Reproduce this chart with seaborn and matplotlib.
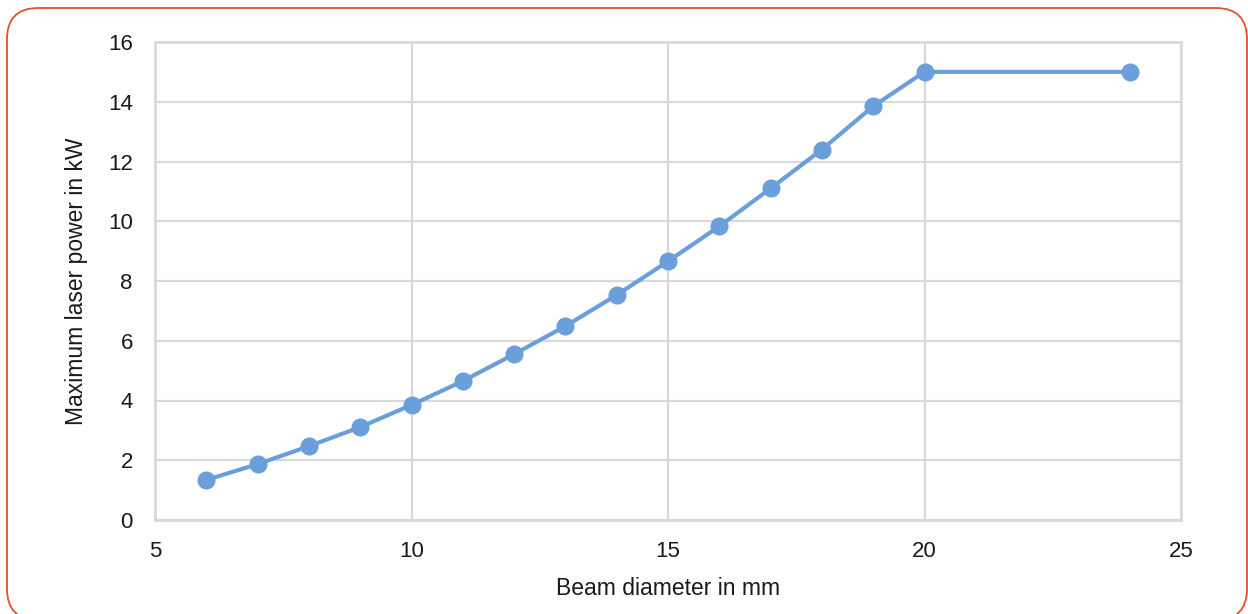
import matplotlib
matplotlib.use("Agg")
import matplotlib.pyplot as plt
import seaborn as sns
import pandas as pd
from matplotlib.patches import FancyBboxPatch

beam_diameter = [6, 7, 8, 9, 10, 11, 12, 13, 14, 15, 16, 17, 18, 19, 20, 24]
max_power = [1.34, 1.87, 2.47, 3.11, 3.85, 4.65, 5.55, 6.49, 7.53, 8.66, 9.83, 11.1, 12.4, 13.85, 15.0, 15.0]
x_ticks = [5, 10, 15, 20, 25]
y_ticks = [0, 2, 4, 6, 8, 10, 12, 14, 16]

df = pd.DataFrame({"Beam diameter in mm": beam_diameter,
                   "Maximum laser power in kW": max_power})

sns.set_theme(style="white")
plt.rcParams['font.family'] = ['Liberation Sans', 'DejaVu Sans']

fig = plt.figure(figsize=(12.48, 6.14), dpi=100)
ax = fig.add_axes([155/1248, 1-520/614, (1181-155)/1248, (520-42)/614])

sns.lineplot(data=df, x="Beam diameter in mm", y="Maximum laser power in kW",
             ax=ax, color="#6a9fdb", linewidth=3, marker="o", markersize=13,
             markeredgewidth=0, zorder=3)

ax.set_xlim(5, 25)
ax.set_ylim(0, 16)
ax.set_xticks(x_ticks)
ax.set_yticks(y_ticks)
ax.grid(True, color="#d9d9d9", linewidth=1.6)
for s in ax.spines.values():
    s.set_color("#d9d9d9")
    s.set_linewidth(2)
ax.tick_params(axis="both", length=0, labelsize=16, colors="#1a1a1a")
ax.tick_params(axis="x", pad=15)
ax.tick_params(axis="y", pad=16)
ax.set_xlabel("Beam diameter in mm", fontsize=16.5, color="#1a1a1a", labelpad=11)
ax.set_ylabel("Maximum laser power in kW", fontsize=16.5, color="#1a1a1a", labelpad=14)

# rounded frame around the figure
box = FancyBboxPatch((7/1248, -6/614), (1247-7)/1248, (606+6)/614,
                     boxstyle="round,pad=0,rounding_size=0.025",
                     mutation_aspect=1248/614,
                     transform=fig.transFigure, fill=False,
                     edgecolor="#e2502b", linewidth=1.3)
fig.patches.append(box)

fig.savefig("out.png", dpi=100)
